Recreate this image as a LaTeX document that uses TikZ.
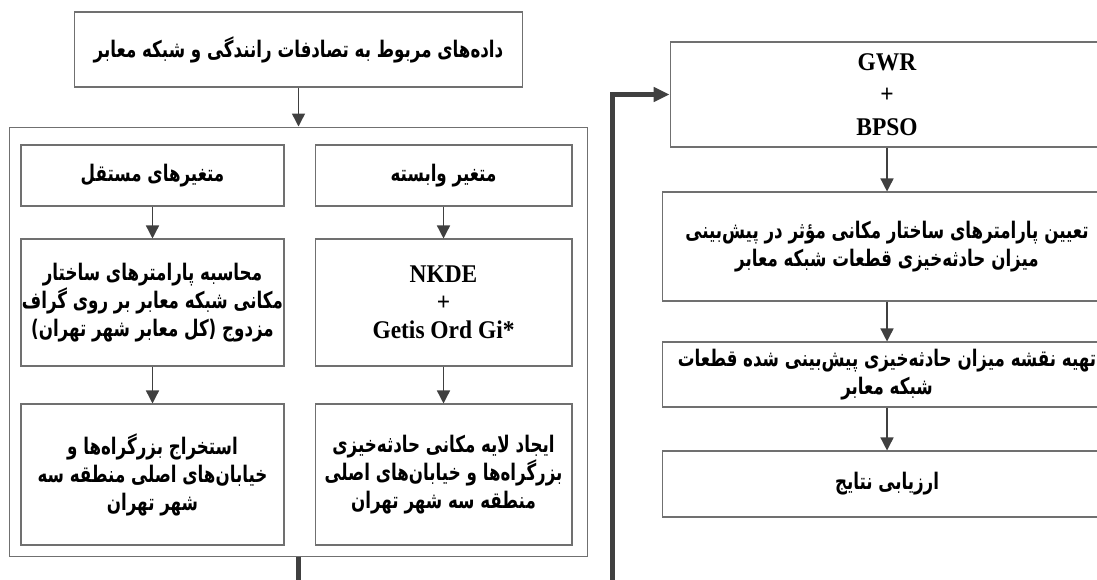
\documentclass[tikz,border=0pt]{standalone}
\usepackage{fontspec}
\setmainfont{Liberation Serif}[FakeStretch=0.92]
\newfontfamily\farsi[Script=Arabic,FakeStretch=0.73]{DejaVu Sans}
\TeXXeTstate=1
\usetikzlibrary{arrows.meta}
\definecolor{linegray}{HTML}{404040}
\definecolor{boxgray}{HTML}{707070}
\newcommand{\rl}[1]{\beginR #1\endR}
\tikzstyle{box}=[draw=boxgray, line width=0.6pt, inner sep=0pt, align=center, font=\farsi\bfseries\fontsize{13}{15.9}\selectfont]
\tikzstyle{lbox}=[box, font=\bfseries\fontsize{14.5}{18.4}\selectfont]
\tikzstyle{frame}=[draw=boxgray, line width=0.6pt, inner sep=0pt]
\tikzstyle{arr}=[draw=linegray, line width=0.8pt, -{Triangle[length=7.4pt, width=7.4pt]}]
\tikzstyle{thickarr}=[draw=linegray, line width=2.3pt, -{Triangle[length=9pt, width=8pt]}]

\begin{document}
\begin{tikzpicture}[x=0.02cm, y=0.02cm]
        \useasboundingbox (0,0) rectangle (1097,-580);
        \clip (0,0) rectangle (1097,-580);
        \node[box, minimum width=8.98cm, minimum height=1.5cm]  (D)  at (298.5, -49.5) {\rl{داده‌های مربوط به تصادفات رانندگی و شبکه معابر}};
        \node[frame, minimum width=11.58cm, minimum height=8.6cm] (F) at (298.5, -342) {};
        \node[box, minimum width=5.26cm, minimum height=1.22cm] (L1) at (152.5, -175.5) {\rl{متغیرهای مستقل}};
        \node[box, minimum width=5.26cm, minimum height=2.54cm] (L2) at (152.5, -302.5) {\rl{محاسبه پارامترهای ساختار}\\\rl{مکانی شبکه معابر بر روی گراف}\\\rl{مزدوج (کل معابر شهر تهران)}};
        \node[box, minimum width=5.26cm, minimum height=2.82cm] (L3) at (152.5, -474.5) {\rl{استخراج بزرگراه‌ها و}\\\rl{خیابان‌های اصلی منطقه سه}\\\rl{شهر تهران}};
        \node[box, minimum width=5.14cm, minimum height=1.22cm] (R1) at (443.5, -175.5) {\rl{متغیر وابسته}};
        \node[lbox, minimum width=5.14cm, minimum height=2.54cm, font=\bfseries\fontsize{14.5}{15.9}\selectfont] (R2) at (443.5, -302.5) {NKDE\\+\\Getis Ord Gi*};
        \node[box, minimum width=5.14cm, minimum height=2.82cm] (R3) at (443.5, -474.5) {\rl{ایجاد لایه مکانی حادثه‌خیزی}\\\rl{بزرگراه‌ها و خیابان‌های اصلی}\\\rl{منطقه سه شهر تهران}};
        \node[lbox, minimum width=8.68cm, minimum height=2.1cm]  (G)  at (887, -94.5) {GWR\\+\\BPSO};
        \node[box, minimum width=9cm, minimum height=2.18cm]     (T)  at (887, -246.5) {\rl{تعیین  پارامترهای ساختار مکانی مؤثر در پیش‌بینی}\\\rl{میزان حادثه‌خیزی قطعات شبکه معابر}};
        \node[box, minimum width=9cm, minimum height=1.3cm]      (M)  at (887, -374.5) {\rl{تهیه نقشه میزان حادثه‌خیزی پیش‌بینی شده قطعات}\\\rl{شبکه معابر}};
        \node[box, minimum width=9cm, minimum height=1.32cm]     (E)  at (887, -484) {\rl{ارزیابی نتایج}};
        \coordinate (turn) at (612.5, -620);
        \draw[arr] (D) -- (F);
        \draw[arr] (L1) -- (L2);
        \draw[arr] (L2) -- (L3);
        \draw[arr] (R1) -- (R2);
        \draw[arr] (R2) -- (R3);
        \draw[arr] (G) -- (T);
        \draw[arr] (T) -- (M);
        \draw[arr] (M) -- (E);
        \draw[thickarr] (F.south) |- (turn) |- (G.west);
    \end{tikzpicture}
\end{document}
